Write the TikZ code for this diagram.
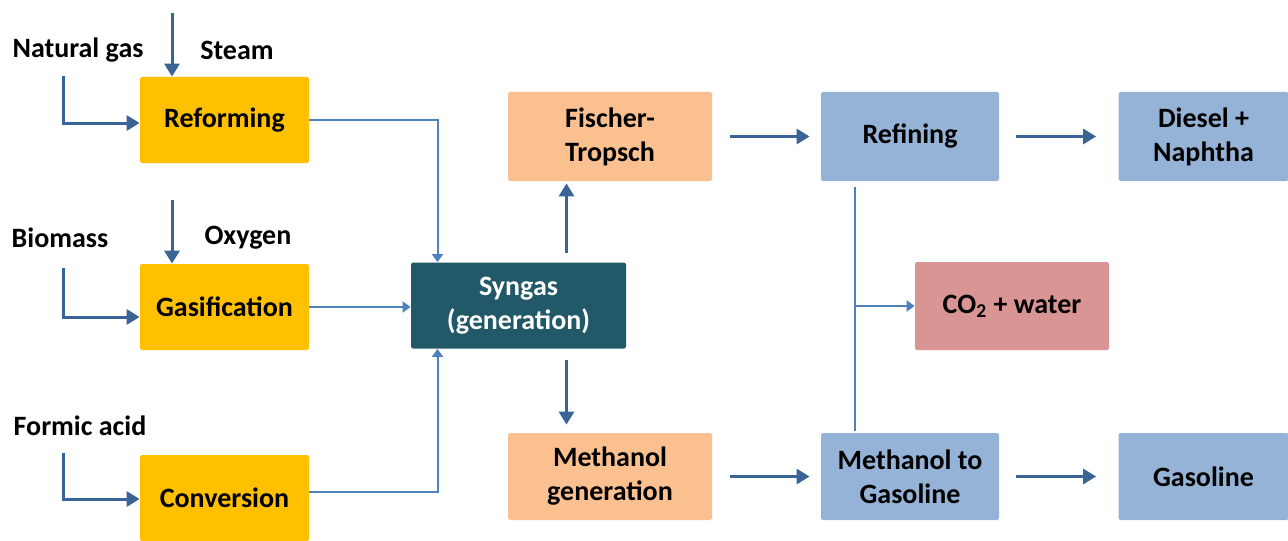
\documentclass[tikz,border=0pt]{standalone}
\usepackage{fontspec}
\setmainfont{Carlito}
\usetikzlibrary{arrows.meta,calc}

\definecolor{procyellow}{HTML}{FFC000}
\definecolor{syngasteal}{HTML}{215968}
\definecolor{peach}{HTML}{FAC090}
\definecolor{lightblue}{HTML}{95B3D7}
\definecolor{rosepink}{HTML}{D99594}
\definecolor{darkarrow}{HTML}{3A6496}
\definecolor{thinarrow}{HTML}{4F81BD}

\begin{document}
\begin{tikzpicture}[x=0.5pt,y=-0.5pt,
	box/.style={rectangle, rounded corners=0.8pt, minimum width=84.5pt, minimum height=43pt, align=center, inner sep=1pt,
		font=\fontsize{14}{17}\selectfont\bfseries},
	lbl/.style={inner sep=0pt, font=\fontsize{14}{17}\selectfont\bfseries},
	fat/.style={draw=darkarrow, line width=1.5pt, -{Triangle[width=7.5pt,length=6.5pt]}},
	thin/.style={draw=thinarrow, line width=1pt},
	thinarr/.style={thin, -{Triangle[width=5.5pt,length=4pt]}}]
	\useasboundingbox (0,0) rectangle (1288,540);

	% feed boxes
	\node[box, fill=procyellow] (reform) at (224.5,120) {Reforming};
	\node[box, fill=procyellow] (gasif) at (224.5,307) {Gasification};
	\node[box, fill=procyellow] (conv) at (224.5,498) {Conversion};

	\node[box, fill=syngasteal, text=white, minimum width=107.5pt] (syngas) at (518.5,305.5) {Syngas\\(generation)};

	\node[box, fill=peach, minimum width=102pt, minimum height=44.5pt] (ft) at (610,136.5) {Fischer-\\Tropsch};
	\node[box, fill=peach, minimum width=102pt, minimum height=43.5pt] (mg) at (610,476.5) {Methanol\\generation};

	\node[box, fill=lightblue, minimum width=89pt, minimum height=44.5pt] (refine) at (910,136.5) {Refining};
	\node[box, fill=lightblue, minimum width=89pt, minimum height=43.5pt] (mtg) at (910,476.5) {Methanol to\\Gasoline};
	\node[box, fill=lightblue, minimum width=85pt, minimum height=44.5pt] (diesel) at (1203.5,136.5) {Diesel +\\Naphtha};
	\node[box, fill=lightblue, minimum width=85pt, minimum height=43.5pt] (gasoline) at (1203.5,476.5) {Gasoline};
	\node[box, fill=rosepink, minimum width=97pt, minimum height=44pt] (co2) at (1012,306) {CO\textsubscript{2} + water};

	% input labels
	\node[lbl] (natgas) at (78,50) {Natural gas};
	\node[lbl] (steam) at (237,50) {Steam};
	\node[lbl] (biomass) at (60,238) {Biomass};
	\node[lbl] (oxygen) at (248,238) {Oxygen};
	\node[lbl] (formic) at (80,426) {Formic acid};

	\coordinate (steamin) at (172,13);
	\coordinate (oxin) at (172,200);
	\coordinate (ngin) at (63,76);
	\coordinate (bmin) at (63,268);
	\coordinate (fain) at (63,453);

	\draw[fat] (steamin) -- (steamin |- reform.north);
	\draw[fat] (oxin) -- (oxin |- gasif.north);
	\draw[fat] (ngin) |- ([yshift=-1.5pt]reform.west);
	\draw[fat] (bmin) |- ([yshift=-5pt]gasif.west);
	\draw[fat] (fain) |- ([yshift=-0.5pt]conv.west);

	% into syngas
	\draw[thinarr] (reform.east) -| ([xshift=-40.5pt]syngas.north);
	\draw[thinarr] (gasif.east) -- (syngas.west |- gasif.east);
	\draw[thinarr] ([yshift=3pt]conv.east) -| ([xshift=-40.5pt]syngas.south);

	% syngas out
	\coordinate (upfoot) at ([xshift=24pt]syngas.north);
	\coordinate (downfoot) at ([xshift=24pt]syngas.south);
	\draw[fat, shorten <=4.5pt, shorten >=1pt] (upfoot) -- (upfoot |- ft.south);
	\draw[fat, shorten <=5.5pt, shorten >=4pt] (downfoot) -- (downfoot |- mg.north);

	\draw[fat, shorten <=9pt, shorten >=5.5pt] (ft) -- (refine);
	\draw[fat, shorten <=8.5pt, shorten >=11pt] (refine) -- (diesel);
	\draw[fat, shorten <=9pt, shorten >=5.5pt] (mg) -- (mtg);
	\draw[fat, shorten <=8.5pt, shorten >=11pt] (mtg) -- (gasoline);

	% bleed line
	\coordinate (rtop) at (855,187);
	\coordinate (rbot) at (855,431);
	\draw[thin] (rtop) -- (rbot);
	\draw[thinarr] (rtop |- co2.west) -- (co2.west);
\end{tikzpicture}
\end{document}
